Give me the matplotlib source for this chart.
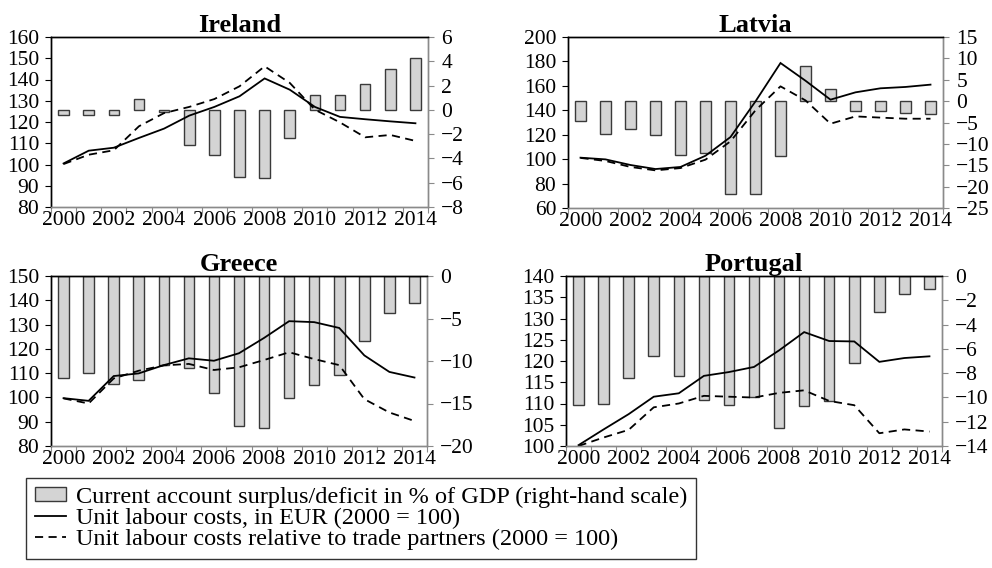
import matplotlib
matplotlib.use("Agg")
import matplotlib.pyplot as plt
from matplotlib.patches import Patch
from matplotlib.lines import Line2D
import numpy as np

plt.rcParams['font.family'] = ['Liberation Serif', 'DejaVu Serif']
plt.rcParams['axes.unicode_minus'] = True

years = list(range(2000, 2015))
year_labels = [str(y) if (y % 2 == 0) else "" for y in years]

ireland_ca = [-0.4, -0.4, -0.4, 0.9, -0.2, -2.9, -3.7, -5.5, -5.6, -2.3, 1.2, 1.2, 2.1, 3.4, 4.3]
ireland_ulc = [100.5, 106.5, 107.9, 112.5, 116.9, 123.0, 127.1, 132.1, 140.5, 135.2, 127.1, 122.4, 121.3, 120.3, 119.4]
ireland_rel = [100.2, 104.6, 106.7, 118.0, 124.2, 127.1, 130.8, 136.8, 146.2, 138.4, 125.8, 119.8, 112.8, 113.9, 111.1]

latvia_ca = [-4.6, -7.6, -6.6, -7.9, -12.7, -12.2, -21.8, -21.8, -12.9, 8.3, 2.9, -2.4, -2.4, -2.7, -3.0]
latvia_ulc = [101.2, 99.8, 95.2, 91.9, 93.6, 102.8, 118.1, 147.3, 178.7, 164.2, 148.7, 154.7, 158.0, 159.1, 161.0]
latvia_rel = [101.0, 98.5, 93.6, 90.8, 92.7, 99.6, 114.6, 140.0, 159.6, 148.1, 129.0, 135.0, 134.0, 133.1, 133.1]

greece_ca = [-12.0, -11.4, -12.7, -12.2, -10.5, -10.8, -13.8, -17.6, -17.9, -14.3, -12.8, -11.7, -7.7, -4.3, -3.2]
greece_ulc = [99.7, 98.6, 108.8, 109.9, 113.3, 116.1, 115.1, 118.2, 124.5, 131.4, 131.0, 128.6, 117.3, 110.5, 108.2]
greece_rel = [99.6, 97.5, 107.8, 111.0, 113.2, 113.8, 111.3, 112.4, 115.4, 118.6, 115.8, 113.3, 99.3, 93.8, 90.3]

portugal_ca = [-10.6, -10.5, -8.4, -6.6, -8.2, -10.2, -10.6, -10.0, -12.5, -10.7, -10.3, -7.2, -3.0, -1.5, -1.1]
portugal_ulc = [100.2, 103.9, 107.5, 111.6, 112.4, 116.5, 117.4, 118.6, 122.5, 126.8, 124.7, 124.6, 119.8, 120.7, 121.1]
portugal_rel = [100.0, 102.0, 103.8, 109.1, 110.0, 111.8, 111.6, 111.4, 112.5, 113.1, 110.6, 109.6, 103.0, 103.9, 103.4]

panels = [
    ("Ireland", ireland_ca, ireland_ulc, ireland_rel, (80, 160, 10), (-8, 6, 2)),
    ("Latvia", latvia_ca, latvia_ulc, latvia_rel, (60, 200, 20), (-25, 15, 5)),
    ("Greece", greece_ca, greece_ulc, greece_rel, (80, 150, 10), (-20, 0, 5)),
    ("Portugal", portugal_ca, portugal_ulc, portugal_rel, (100, 140, 5), (-14, 0, 2)),
]

W, H = 992, 568
rects = [
    (51, 428, 37, 207),
    (568, 943, 37, 208),
    (51, 427, 276, 446),
    (566, 942, 276, 446),
]

fig = plt.figure(figsize=(W / 100, H / 100), dpi=100)
FS = 15.5
bar_fc = '#d4d4d4'
bar_ec = '#3a3a3a'
grey = '#8a8a8a'
dash = (0, (4.5, 3.0))

for (name, ca, ulc, rel, lrng, rrng), (x0, x1, y0, y1) in zip(panels, rects):
    ax = fig.add_axes([x0 / W, 1 - y1 / H, (x1 - x0) / W, (y1 - y0) / H])
    ax2 = ax.twinx()
    x = np.arange(len(years))
    ax2.bar(x, ca, width=0.42, color=bar_fc, edgecolor=bar_ec, linewidth=1.0)
    ax.plot(x, ulc, color='black', lw=1.3, solid_joinstyle='miter')
    ax.plot(x, rel, color='black', lw=1.3, ls=dash)
    ax.set_zorder(ax2.get_zorder() + 1)
    ax.patch.set_visible(False)

    ax.set_xlim(-0.5, len(years) - 0.5)
    ax.set_ylim(lrng[0], lrng[1])
    ax.set_yticks(np.arange(lrng[0], lrng[1] + 0.1, lrng[2]))
    ax2.set_ylim(rrng[0], rrng[1])
    ax2.set_yticks(np.arange(rrng[0], rrng[1] + 0.1, rrng[2]))

    # category axis: ticks at boundaries, labels at centres
    ax.set_xticks(np.arange(-0.5, len(years), 1.0))
    ax.set_xticklabels([])
    ax.set_xticks(x, minor=True)
    ax.set_xticklabels(year_labels, minor=True, fontsize=FS)
    ax.tick_params(axis='x', which='major', direction='out', length=4.5, color=grey)
    ax.tick_params(axis='x', which='minor', length=0, pad=3)
    ax.tick_params(axis='y', direction='out', length=4.5, labelsize=FS, pad=4)
    ax2.tick_params(axis='y', direction='out', length=4.5, labelsize=FS, pad=5, color=grey)

    for a in (ax, ax2):
        a.spines['top'].set_color('black')
        a.spines['left'].set_color('black')
        a.spines['right'].set_color(grey)
        a.spines['bottom'].set_color(grey)
        for s in a.spines.values():
            s.set_linewidth(1.0)
    ax.set_title(name, fontsize=19, fontweight='bold', pad=3)

handles = [
    Patch(facecolor=bar_fc, edgecolor=bar_ec, linewidth=1.0),
    Line2D([], [], color='black', lw=1.3),
    Line2D([], [], color='black', lw=1.3, ls=dash),
]
labels = [
    "Current account surplus/deficit in % of GDP (right-hand scale)",
    "Unit labour costs, in EUR (2000 = 100)",
    "Unit labour costs relative to trade partners (2000 = 100)",
]
leg = fig.legend(handles, labels, loc='upper left', bbox_to_anchor=(26 / W, 1 - 478 / H),
                 borderaxespad=0, frameon=True, fancybox=False, edgecolor='black',
                 fontsize=17.5, handlelength=1.3, handleheight=0.5, handletextpad=0.4,
                 labelspacing=0.0, borderpad=0.35)
leg.get_frame().set_linewidth(1.0)

fig.savefig("out.png", dpi=100)
